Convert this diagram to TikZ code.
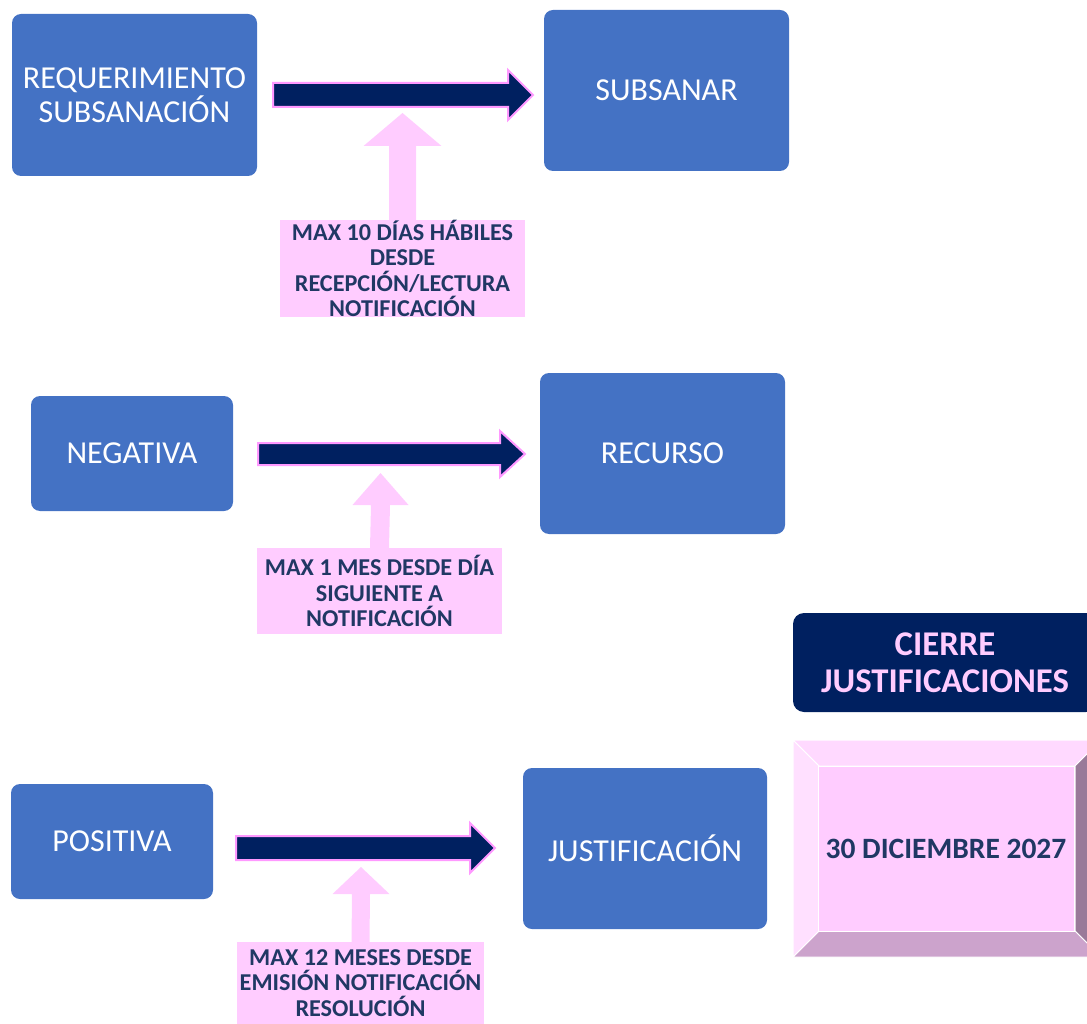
\documentclass[tikz,border=0pt]{standalone}
\usepackage{fontspec}
\setmainfont{Carlito}
\usetikzlibrary{calc}
\definecolor{azul}{HTML}{4472C4}
\definecolor{marino}{HTML}{002060}
\definecolor{rosa}{HTML}{FFCCFF}
\definecolor{borde}{HTML}{FF99FF}
\definecolor{texto}{HTML}{203864}
\definecolor{bisel_sup}{HTML}{FFD9FF}
\definecolor{bisel_izq}{HTML}{FFE0FF}
\definecolor{bisel_inf}{HTML}{CCA3CC}
\definecolor{bisel_der}{HTML}{997A99}
\begin{document}
\begin{tikzpicture}[x=1pt,y=-1pt]
  \tikzstyle{caja}=[rectangle,rounded corners=9pt,fill=azul,text=white,align=center,inner sep=0pt,font=\fontsize{32}{34}\selectfont]
  \tikzstyle{nota}=[rectangle,fill=rosa,text=texto,align=center,inner sep=0pt,font=\fontsize{24.2}{25.5}\selectfont\bfseries]
  \tikzstyle{flecha}=[fill=marino,draw=borde,line width=2pt,line join=miter]
  \tikzstyle{subida}=[fill=rosa]
  \tikzstyle{bisel}=[draw=white,line width=1pt,line join=miter]
  \useasboundingbox (0,0) rectangle (1087,1024);
  \node[caja,minimum width=245pt,minimum height=162pt] (req) at (134.5,95) {REQUERIMIENTO\\SUBSANACIÓN};
  \node[caja,minimum width=245pt,minimum height=161pt] (subs) at (666.5,90.5) {SUBSANAR};
  \node[caja,minimum width=202pt,minimum height=115pt] (neg) at (132,453.5) {NEGATIVA};
  \node[caja,minimum width=245pt,minimum height=161pt] (rec) at (662.5,453.5) {RECURSO};
  \node[caja,minimum width=202pt,minimum height=115pt] (pos) at (112,841.5) {POSITIVA};
  \node[caja,minimum width=244pt,minimum height=161pt] (just) at (645,848.5) {JUSTIFICACIÓN};
  \node[nota,minimum width=245pt,minimum height=97pt] (nota_1) at (402.5,268.5) {MAX 10 DÍAS HÁBILES\\DESDE\\RECEPCIÓN/LECTURA\\NOTIFICACIÓN};
  \node[nota,minimum width=245pt,minimum height=86pt] (nota_2) at (379.5,591) {MAX 1 MES DESDE DÍA\\SIGUIENTE A\\NOTIFICACIÓN};
  \node[nota,minimum width=247pt,minimum height=82pt] (nota_3) at (360.5,983) {MAX 12 MESES DESDE\\EMISIÓN NOTIFICACIÓN\\RESOLUCIÓN};
  \coordinate (f1a) at (273,95);  \coordinate (f1b) at (533,95);
  \coordinate (f2a) at (258,454); \coordinate (f2b) at (525,454);
  \coordinate (f3a) at (236,848); \coordinate (f3b) at (495,848);
  \foreach \i/\s/\h in {1/12/25,2/11/23,3/12/25}
    \draw[flecha] ($(f\i a)+(0,-\s)$) -- ($(f\i b)+(-25,-\s)$) -- ($(f\i b)+(-25,-\h)$) -- (f\i b)
      -- ($(f\i b)+(-25,\h)$) -- ($(f\i b)+(-25,\s)$) -- ($(f\i a)+(0,\s)$) -- cycle;
  \coordinate (p_1) at (402.5,113);
  \coordinate (p_2) at (380.5,473);
  \coordinate (p_3) at (361,867);
  \foreach \i/\s/\h/\l in {1/13.5/39/33,2/9.5/28/32,3/9/28.5/27}
    \fill[subida] ($(nota_\i.north)+(-\s,0.5)$) -- ($(p_\i)+(-\s,\l)$) -- ($(p_\i)+(-\h,\l)$) -- (p_\i)
      -- ($(p_\i)+(\h,\l)$) -- ($(p_\i)+(\s,\l)$) -- ($(nota_\i.north)+(\s,0.5)$) -- cycle;
  \node[rectangle,rounded corners=11pt,fill=marino,text=rosa,align=center,inner sep=0pt,minimum width=304pt,minimum height=99pt,font=\fontsize{34.7}{37}\selectfont\bfseries] (cierre) at (945,662.5) {CIERRE\\JUSTIFICACIONES};
  \coordinate (o1) at (793,740);  \coordinate (o2) at (1101,740);
  \coordinate (o3) at (1101,957); \coordinate (o4) at (793,957);
  \coordinate (i1) at (819,766);  \coordinate (i2) at (1075,766);
  \coordinate (i3) at (1075,931); \coordinate (i4) at (819,931);
  \filldraw[bisel,fill=bisel_sup] (o1) -- (o2) -- (i2) -- (i1) -- cycle;
  \filldraw[bisel,fill=bisel_der] (o2) -- (o3) -- (i3) -- (i2) -- cycle;
  \filldraw[bisel,fill=bisel_inf] (o3) -- (o4) -- (i4) -- (i3) -- cycle;
  \filldraw[bisel,fill=bisel_izq] (o4) -- (o1) -- (i1) -- (i4) -- cycle;
  \node[rectangle,fill=rosa,draw=white,line width=1pt,text=texto,inner sep=0pt,minimum width=256pt,minimum height=165pt,font=\fontsize{29.5}{32}\selectfont\bfseries] (fecha) at (946,848.5) {30 DICIEMBRE 2027};
\end{tikzpicture}
\end{document}
